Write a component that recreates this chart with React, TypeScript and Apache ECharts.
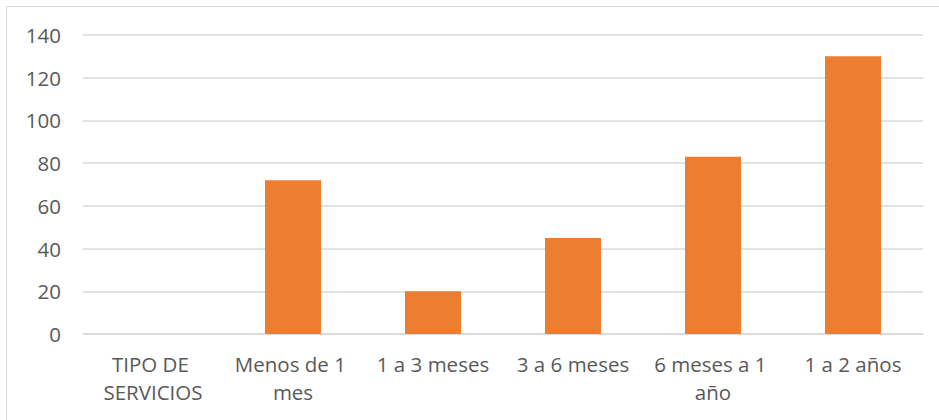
import React, { useEffect, useRef } from "react";
import * as echarts from "echarts";

const categories = [
  "TIPO DE SERVICIOS",
  "Menos de 1 mes",
  "1 a 3 meses",
  "3 a 6 meses",
  "6 meses a 1 año",
  "1 a 2 años",
];
const values = [null, 72, 20, 45, 83, 130];
const yMin = 0;
const yMax = 140;
const yStep = 20;

export default function App() {
  const ref = useRef<HTMLDivElement>(null);
  useEffect(() => {
    document.body.style.margin = "0";
    const chart = echarts.init(ref.current!, null, { renderer: "svg" });
    chart.setOption({
      animation: false,
      backgroundColor: "#ffffff",
      textStyle: { fontFamily: "Open Sans" },
      grid: { left: 83, right: 16, top: 35, bottom: 86, containLabel: false },
      graphic: [
        {
          type: "line",
          shape: { x1: 6, y1: 6.5, x2: 939, y2: 6.5 },
          style: { stroke: "#D9D9D9", lineWidth: 1 },
        },
        {
          type: "line",
          shape: { x1: 6.5, y1: 6, x2: 6.5, y2: 420 },
          style: { stroke: "#D9D9D9", lineWidth: 1 },
        },
      ],
      xAxis: {
        type: "category",
        data: categories,
        axisLine: { show: true, lineStyle: { color: "#D9D9D9", width: 1.5 } },
        axisTick: { show: false },
        axisLabel: {
          color: "#595959",
          fontSize: 20.5,
          fontFamily: "Open Sans",
          margin: 16,
          lineHeight: 28,
          width: 128,
          overflow: "break",
          interval: 0,
        },
      },
      yAxis: {
        type: "value",
        min: yMin,
        max: yMax,
        interval: yStep,
        axisLine: { show: false },
        axisTick: { show: false },
        splitLine: { lineStyle: { color: "#D9D9D9", width: 1.5 } },
        axisLabel: {
          color: "#595959",
          fontSize: 20.5,
          fontFamily: "Open Sans",
          margin: 22,
        },
      },
      series: [
        {
          type: "bar",
          data: values,
          barWidth: "40%",
          itemStyle: { color: "#ED7D31" },
        },
      ],
    });
    return () => chart.dispose();
  }, []);
  return (
    <div
      ref={ref}
      style={{ position: "absolute", left: 0, top: 0, width: 939, height: 420 }}
    />
  );
}
